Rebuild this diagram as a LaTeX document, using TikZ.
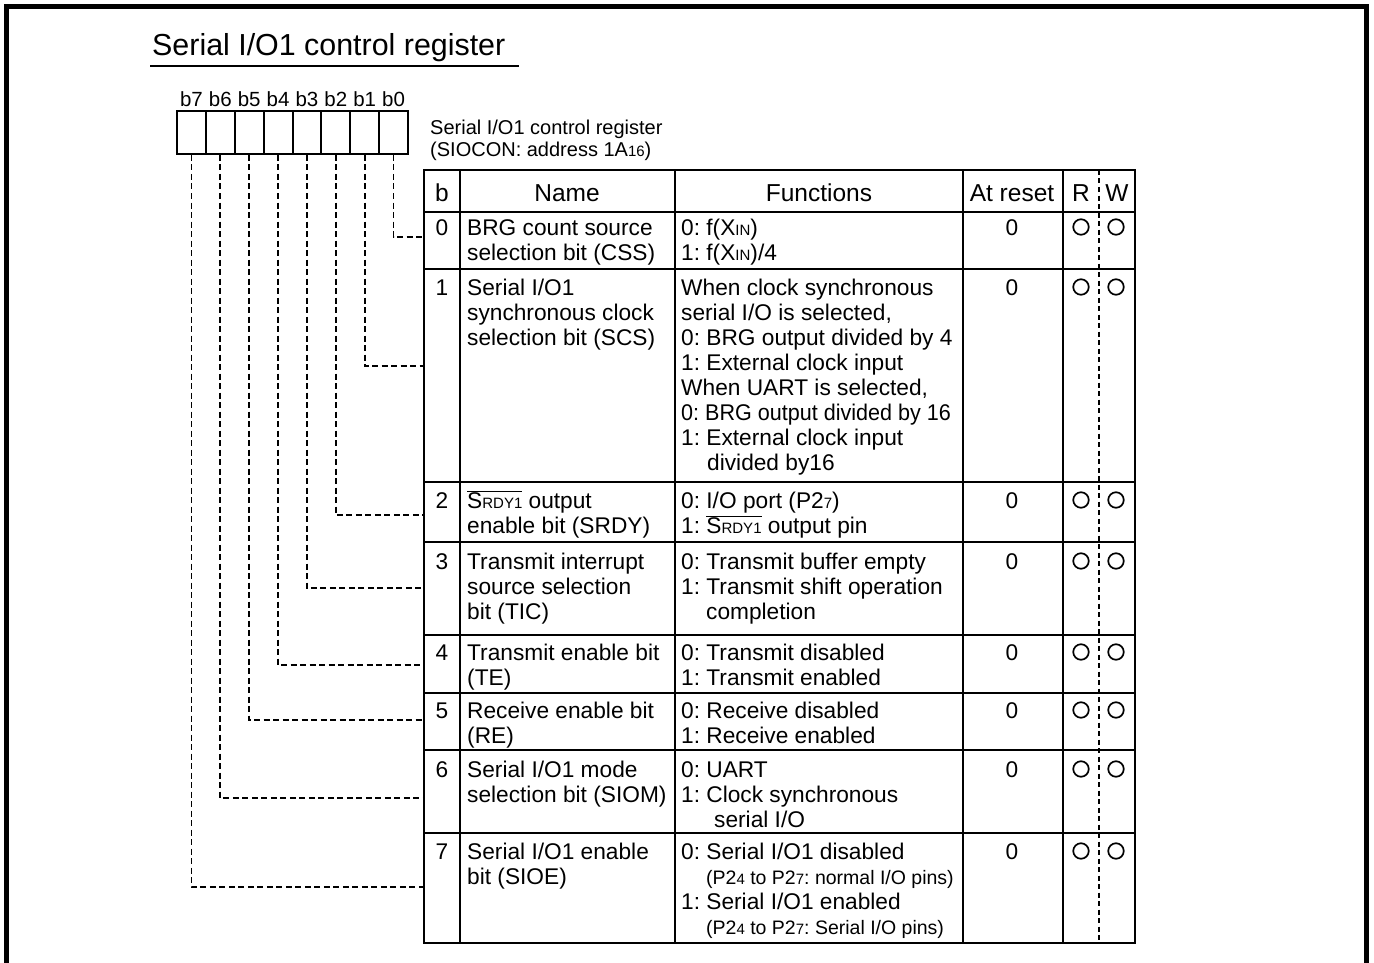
\documentclass[tikz,border=0pt]{standalone}
\usepackage{fontspec}
\usepackage{graphicx}
\setmainfont{Liberation Sans}
\frenchspacing

% small letters set on the baseline (index-style digits and letters)
\newcommand\lowtxt[1]{{\fontsize{15}{15}\selectfont #1}}
% active-low signal name with a bar over it
\newcommand\srdyone{\ensuremath{\overline{\hbox{S\lowtxt{RDY1}}}}}
% a left-aligned block of lines whose baseline is its first line
\newcommand\celltxt[1]{\begin{tabular}[t]{@{}l@{}}#1\end{tabular}}
% smaller explanatory line
\newcommand\smallline[1]{{\fontsize{19.5}{25}\selectfont #1}}

\begin{document}
\begin{tikzpicture}[x=1pt,y=-1pt,
  frame/.style={line width=5pt,line join=miter},
  grid/.style={line width=2pt},
  conn/.style={line width=1.8pt,dash pattern=on 6pt off 3.5pt},
  rwsep/.style={line width=1.2pt,dash pattern=on 5pt off 3.5pt},
  regbit/.style={draw,line width=2pt,minimum width=28.875pt,minimum height=43pt,inner sep=0pt,anchor=north west},
  bitlbl/.style={inner sep=0pt,anchor=base,font=\fontsize{20.5}{22}\selectfont},
  body/.style={inner sep=0pt,anchor=base west,font=\fontsize{22.7}{25}\selectfont},
  num/.style={inner sep=0pt,anchor=base,font=\fontsize{22.7}{25}\selectfont},
  hdr/.style={inner sep=0pt,anchor=base,font=\fontsize{24.5}{26}\selectfont},
  rwmark/.style={circle,draw,line width=1.7pt,minimum size=15.5pt,inner sep=0pt}]

\useasboundingbox (0,0) rectangle (1374,963);

% page frame, open at the bottom
\draw[frame] (6.5,963) -- (6.5,7) -- (1366.5,7) -- (1366.5,963);

% heading
\node[anchor=base west,inner sep=0pt,font=\fontsize{30.4}{32}\selectfont] (title) at (152,56) {Serial I/O1 control register};
\draw[line width=1.5pt] (150,66) -- (519,66);

% register bit cells b7..b0
\foreach \i in {0,...,7}{
  \pgfmathsetmacro\xx{176+(7-\i)*28.875}
  \node[regbit] (r\i) at (\xx,110) {};
  \node[bitlbl] (l\i) at ([yshift=3.5pt]r\i.north) {b\i};
}

% register caption
\node[anchor=base west,inner sep=0pt,font=\fontsize{20}{22}\selectfont] (cap) at (430,135)
  {\celltxt{Serial I/O1 control register\\(SIOCON: address 1A\lowtxt{16})}};

% table frame and rules
\draw[grid] (424,170) rectangle (1135,943);
\foreach \xx in {460,675,963,1063}{ \draw[grid] (\xx,170) -- (\xx,943); }
\foreach \yy in {212,269,482,542,635,693,750,833}{ \draw[grid] (424,\yy) -- (1135,\yy); }
\draw[rwsep] (1099,170) -- (1099,943);

% column headings
\node[hdr] (hb)   at (442,201)  {b};
\node[hdr] (hnm)  at (567,201)  {Name};
\node[hdr] (hfn)  at (819,201)  {Functions};
\node[hdr] (hrst) at (1012,201) {At reset};
\node[hdr] (hr)   at (1081,201) {R};
\node[hdr] (hw)   at (1117,201) {W};

% bit number, reset value and R/W marks for every row
\foreach \bl [count=\k from 0] in {235,295,508,569,660,718,777,859}{
  \node[num] (bit\k) at (442,\bl) {\k};
  \node[num] (rst\k) at (1012,\bl) {0};
  \node[rwmark] (rd\k) at (1081,\bl-8) {};
  \node[rwmark] (wr\k) at (1116,\bl-8) {};
}

% names
\node[body] (nm0) at (467,235) {\celltxt{BRG count source\\selection bit (CSS)}};
\node[body] (nm1) at (467,295) {\celltxt{Serial I/O1\\synchronous clock\\selection bit (SCS)}};
\node[body] (nm2) at (467,508) {\celltxt{\srdyone{} output\\enable bit (SRDY)}};
\node[body] (nm3) at (467,569) {\celltxt{Transmit interrupt\\source selection\\bit (TIC)}};
\node[body] (nm4) at (467,660) {\celltxt{Transmit enable bit\\(TE)}};
\node[body] (nm5) at (467,718) {\celltxt{Receive enable bit\\(RE)}};
\node[body] (nm6) at (467,777) {\celltxt{Serial I/O1 mode\\selection bit (SIOM)}};
\node[body] (nm7) at (467,859) {\celltxt{Serial I/O1 enable\\bit (SIOE)}};

% functions
\node[body] (fn0) at (681,235) {\celltxt{0: f(X\lowtxt{IN})\\1: f(X\lowtxt{IN})/4}};
\node[body] (fn1) at (681,295) {\celltxt{When clock synchronous\\serial I/O is selected,\\0: BRG output divided by 4\\1: External clock input\\When UART is selected,\\\scalebox{0.95}[1]{0: BRG output divided by 16}\\1: External clock input\\\hspace*{26pt}divided by16}};
\node[body] (fn2) at (681,508) {\celltxt{0: I/O port (P2\lowtxt{7})\\1: \srdyone{} output pin}};
\node[body] (fn3) at (681,569) {\celltxt{0: Transmit buffer empty\\1: Transmit shift operation\\\hspace*{25pt}completion}};
\node[body] (fn4) at (681,660) {\celltxt{0: Transmit disabled\\1: Transmit enabled}};
\node[body] (fn5) at (681,718) {\celltxt{0: Receive disabled\\1: Receive enabled}};
\node[body] (fn6) at (681,777) {\celltxt{0: UART\\1: Clock synchronous\\\hspace*{33pt}serial I/O}};
\node[body] (fn7) at (681,859) {\celltxt{0: Serial I/O1 disabled\\\hspace*{25pt}\smallline{(P2\lowtxt{4} to P2\lowtxt{7}: normal I/O pins)}\\1: Serial I/O1 enabled\\\hspace*{25pt}\smallline{(P2\lowtxt{4} to P2\lowtxt{7}: Serial I/O pins)}}};

% entry points on the table's left edge
\coordinate (in0) at (424,237);
\coordinate (in1) at (424,366);
\coordinate (in2) at (424,515);
\coordinate (in3) at (424,588);
\coordinate (in4) at (424,665);
\coordinate (in5) at (424,720);
\coordinate (in6) at (424,798);
\coordinate (in7) at (424,887);

% dashed leaders from each bit cell to its row
\foreach \i in {0,...,7}{ \draw[conn] (r\i.south) |- (in\i); }

\end{tikzpicture}
\end{document}
